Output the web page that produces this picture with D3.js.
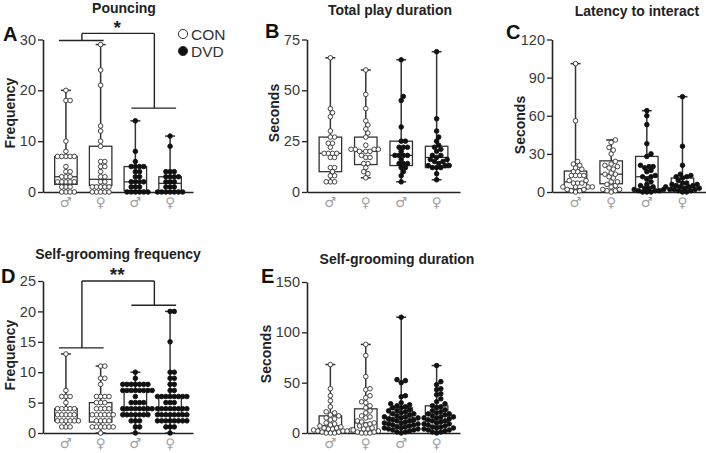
<!DOCTYPE html>
<html><head><meta charset="utf-8">
<script src="https://cdn.jsdelivr.net/npm/d3@7"></script>
<style>body{margin:0;background:#fff}</style>
</head><body><svg id="c" width="706" height="453"></svg>
<script>
// ---------- DATA ----------
const groups = ["CON ♂", "CON ♀", "DVD ♂", "DVD ♀"];
const sexSymbols = ["♂", "♀", "♂", "♀"];
const treatment = ["CON", "CON", "DVD", "DVD"];

// box stats: [min, q1, median, q3, max]
const pouncingValues = [
  [20,18,18,10,8,7,7,7,7,7,5,4,4,3,3,3,2,2,2,2,2,1,1,1,0,0,0,0],
  [29,24,21,13,12,10,9,6,6,5,5,4,3,3,2,2,1,1,1,1,1,0,0,0,0,0],
  [14,8,6,5,5,5,5,4,4,3,3,2,2,2,2,1,1,1,0,0,0,0,0,0],
  [11,9,4,4,4,3,3,3,3,2,2,2,1,1,1,0,0,0,0,0,0,0]
];
const pouncingBoxes = [[0,1.5,3,7,20],[0,1.3,2.5,9,29],[0,0.3,2,5,14],[0,0.2,1.7,3,11]];
const pouncingTicks = [0,10,20,30];

const playValues = [
  [66,41,39,37,30,27,27,24,24,22,19,19,19,19,17,17,12,12,10,8,8,5,5,5],
  [60,48,41,35,33,31,29,27,23,21,21,21,21,20,20,20,18,17,17,14,14,12,10,9,7],
  [65,47,45,32,25,25,22,22,22,20,18,18,18,18,16,14,14,14,12,12,10,8,5],
  [69,36,30,27,25,23,22,21,20,18,18,17,16,16,15,15,14,13,13,13,12,12,12,9,6]
];
const playBoxes = [[5,10,19,27,66],[7,13.5,20,27,60],[5,13,18,25,65],[6,12,17,22.5,69]];
const playTicks = [0,25,50,75];

const latencyValues = [
  [101,56,24,22,21,19,18,16,16,13,13,13,13,9,9,7,7,7,4,4,4,4,2,2,1,1,0],
  [41,39,35,33,30,24,22,21,20,19,18,15,14,14,12,11,8,8,6,5,4,2,2,1,1,0],
  [64,60,53,38,30,28,21,20,20,19,17,16,13,12,12,10,8,6,5,4,3,3,2,2,1,1,1,0,0,0],
  [75,36,21,14,13,12,12,11,9,7,7,6,6,5,5,4,4,4,3,3,2,2,2,1,1,0,0]
];
const latencyBoxes = [[0,2.5,8,16.5,101],[0,6.5,14,24.5,41],[0,1,12,28,64],[0,1.5,4,11,75]];
const latencyTicks = [0,30,60,90,120];

const groomFreqValues = [
  [13,7,6,6,6,5,4,4,4,4,4,3,3,3,3,3,2,2,2,2,2,2,1,1,1],
  [11,11,9,9,8,6,6,6,6,5,5,5,4,4,4,4,3,3,3,3,3,3,2,2,2,2,1,1,1,1,1,1,0],
  [10,9,8,8,8,8,8,8,8,7,7,7,7,7,7,7,7,6,5,5,5,5,4,4,4,4,4,4,4,4,3,3,3,3,3,3,3,2,2,2,1,1,0],
  [20,20,15,10,10,9,9,8,8,7,7,6,6,6,6,6,6,6,6,5,5,5,4,4,4,4,4,4,4,4,3,3,3,3,3,3,3,3,2,2,2,2,2,2,2,2,1,1,1,0]
];
const groomFreqBoxes = [[1,2,3,4,13],[0,1.8,3,5,11],[0,3,4,7,10],[0,3,4,6,20]];
const groomFreqTicks = [0,5,10,15,20,25];

const groomDurValues = [
  [68,44,37,32,26,21,20,18,17,15,14,13,10,9,8,7,6,5,5,4,4,3,3,2,2,2,1,1,0,0,0],
  [88,77,56,44,43,37,35,31,30,27,25,22,20,17,16,15,12,11,10,9,8,7,5,4,4,3,2,1,1,0,0,0],
  [115,53,52,50,37,36,30,29,28,27,26,25,25,23,22,22,21,20,19,19,18,17,16,16,15,15,14,13,13,12,12,11,10,10,9,9,8,8,7,6,6,5,5,4,4,3,3,2,1,1,0],
  [67,51,48,44,43,39,38,34,31,29,27,26,25,23,22,21,20,19,19,18,17,16,16,15,15,14,13,12,12,11,10,9,9,8,7,6,6,5,5,4,3,3,2,1,1,0]
];
const groomDurBoxes = [[0,2,7,17,68],[0,2,10,24,88],[0,8,15,25,115],[0,7,13,27,67]];
const groomDurTicks = [0,50,100,150];

// ---------- LAYOUT ----------
const panels = [
  {letter:"A", title:"Pouncing", ylab:"Frequency", values:pouncingValues, boxes:pouncingBoxes, ticks:pouncingTicks,
   x0:43, x1:193, yTop:39.5, yBot:192, titleX:124, titleY:12.5, letterX:3, letterY:41, ylabX:15, ylabY:113},
  {letter:"B", title:"Total play duration", ylab:"Seconds", values:playValues, boxes:playBoxes, ticks:playTicks,
   x0:307, x1:460, yTop:39.5, yBot:192, titleX:390, titleY:15, letterX:265, letterY:38, ylabX:279, ylabY:113},
  {letter:"C", title:"Latency to interact", ylab:"Seconds", values:latencyValues, boxes:latencyBoxes, ticks:latencyTicks,
   x0:552, x1:706, yTop:39.5, yBot:192, titleX:637, titleY:16, letterX:506, letterY:39, ylabX:525, ylabY:125},
  {letter:"D", title:"Self-grooming frequency", ylab:"Frequency", values:groomFreqValues, boxes:groomFreqBoxes, ticks:groomFreqTicks,
   x0:43, x1:193, yTop:281, yBot:433, titleX:118, titleY:259, letterX:1, letterY:283, ylabX:15, ylabY:355},
  {letter:"E", title:"Self-grooming duration", ylab:"Seconds", values:groomDurValues, boxes:groomDurBoxes, ticks:groomDurTicks,
   x0:307, x1:460, yTop:282, yBot:433, titleX:397, titleY:264, letterX:261, letterY:283, ylabX:271, ylabY:354}
];

const svg = d3.select("#c");
const FONT = "'Liberation Sans', Arial, Helvetica, sans-serif";
const INK = "#222";
const R = 2.3, SP = 4.2;

function swarm(vals, cx, y) {
  const placed = [];
  const sorted = vals.slice().sort((a,b)=>a-b);
  for (const v of sorted) {
    const py = y(v);
    let px = cx;
    for (let i = 0; i < 80; i++) {
      const off = (i === 0 ? 0 : (i % 2 ? 1 : -1) * Math.ceil(i/2) * SP/2);
      const tx = cx + off;
      let ok = true;
      for (const p of placed) {
        const dx = tx - p.x, dy = py - p.y;
        if (dx*dx + dy*dy < SP*SP - 0.01) { ok = false; break; }
      }
      if (ok) { px = tx; break; }
    }
    placed.push({x:px, y:py, v});
  }
  return placed;
}

panels.forEach(P => {
  const g = svg.append("g");
  const maxT = P.ticks[P.ticks.length-1];
  const y = d3.scaleLinear().domain([0, maxT]).range([P.yBot, P.yTop]);
  const x = d3.scalePoint().domain(groups).range([P.x0, P.x1]).padding(0.66);

  // axes
  const ya = g.append("g").attr("transform", `translate(${P.x0},0)`)
    .call(d3.axisLeft(y).tickValues(P.ticks).tickSize(5).tickSizeOuter(0).tickPadding(2));
  ya.select(".domain").attr("stroke", INK).attr("stroke-width", 1.6);
  ya.selectAll(".tick line").attr("stroke", INK).attr("stroke-width", 1.3);
  ya.selectAll(".tick text").attr("font-family", FONT).attr("font-size", 14.5).attr("fill", "#3a3a3a");

  const xa = g.append("g").attr("transform", `translate(0,${P.yBot})`)
    .call(d3.axisBottom(x).tickSize(0).tickSizeOuter(0).tickFormat(""));
  xa.select(".domain").attr("stroke", INK).attr("stroke-width", 1.6);

  // sex symbols
  g.selectAll(".sex").data(groups).enter().append("text")
    .attr("x", d => x(d)).attr("y", P.yBot + 15)
    .attr("text-anchor", "middle").attr("font-family", "'DejaVu Sans', sans-serif")
    .attr("font-size", 13.5).attr("fill", "#a0a0a0")
    .text((d,i) => sexSymbols[i]);

  // boxes & whiskers
  const BW = 22.5, CW = 10;
  groups.forEach((grp, i) => {
    const [mn, q1, md, q3, mx] = P.boxes[i];
    const cx = x(grp);
    const bg = g.append("g");
    bg.append("line").attr("x1", cx).attr("x2", cx).attr("y1", y(mx)).attr("y2", y(q3))
      .attr("stroke", "#333").attr("stroke-width", 1.5);
    bg.append("line").attr("x1", cx).attr("x2", cx).attr("y1", y(q1)).attr("y2", y(mn))
      .attr("stroke", "#333").attr("stroke-width", 1.5);
    [mn, mx].forEach(v => bg.append("line").attr("x1", cx - CW/2).attr("x2", cx + CW/2)
      .attr("y1", y(v)).attr("y2", y(v)).attr("stroke", "#333").attr("stroke-width", 1.5));
    bg.append("rect").attr("x", cx - BW/2).attr("y", y(q3)).attr("width", BW).attr("height", y(q1) - y(q3))
      .attr("fill", "none").attr("stroke", "#333").attr("stroke-width", 1.3);
    bg.append("line").attr("x1", cx - BW/2).attr("x2", cx + BW/2).attr("y1", y(md)).attr("y2", y(md))
      .attr("stroke", "#333").attr("stroke-width", 1.3);

    const pts = swarm(P.values[i], cx, y);
    const con = treatment[i] === "CON";
    g.append("g").selectAll("circle").data(pts).enter().append("circle")
      .attr("cx", d => d.x).attr("cy", d => d.y).attr("r", R)
      .attr("fill", con ? "#fff" : "#111")
      .attr("stroke", con ? "#333" : "#111").attr("stroke-width", 0.9);
  });

  // titles
  g.append("text").attr("x", P.titleX).attr("y", P.titleY).attr("text-anchor", "middle")
    .attr("font-family", FONT).attr("font-weight", "bold").attr("font-size", 14).attr("fill", "#222")
    .text(P.title);
  g.append("text").attr("x", P.letterX).attr("y", P.letterY)
    .attr("font-family", FONT).attr("font-weight", "bold").attr("font-size", 20).attr("fill", "#111")
    .text(P.letter);
  g.append("text").attr("transform", `translate(${P.ylabX},${P.ylabY}) rotate(-90)`)
    .attr("text-anchor", "middle").attr("font-family", FONT).attr("font-weight", "bold")
    .attr("font-size", 14).attr("fill", "#222").text(P.ylab);

  P.y = y; P.x = x; P.g = g;
});

// ---------- significance brackets ----------
function bracket(P, leftY, rightY, topY, label, labelY, size) {
  const x = P.x, y = P.y, g = P.g;
  const lx1 = x(groups[0]) - 7, lx2 = x(groups[1]) + 3;
  const rx1 = x(groups[2]) - 4, rx2 = x(groups[3]) + 6;
  const lm = x(groups[0]) + 16, rm = x(groups[2]) + 19;
  const line = (x1,y1,x2,y2) => g.append("line").attr("x1",x1).attr("y1",y1).attr("x2",x2).attr("y2",y2)
    .attr("stroke", "#222").attr("stroke-width", 1.4);
  line(lx1, y(leftY), lx2, y(leftY));
  line(rx1, y(rightY), rx2, y(rightY));
  line(lm, y(leftY), lm, y(topY));
  line(rm, y(rightY), rm, y(topY));
  line(lm, y(topY), rm, y(topY));
  g.append("text").attr("x", (lm + rm)/2 - 1).attr("y", labelY).attr("text-anchor", "middle")
    .attr("font-family", FONT).attr("font-weight", "bold").attr("font-size", size).attr("fill", "#222").text(label);
}
bracket(panels[0], 29.8, 16.5, 31.2, "*", 33.5, 19);
bracket(panels[3], 14, 21, 25, "**", 281, 19);

// ---------- legend ----------
const legendItems = [{label:"CON", fill:"#fff"}, {label:"DVD", fill:"#111"}];
const lg = svg.append("g");
legendItems.forEach((d, i) => {
  lg.append("circle").attr("cx", 183).attr("cy", 34 + i*17).attr("r", 4.6)
    .attr("fill", d.fill).attr("stroke", "#333").attr("stroke-width", 1);
  lg.append("text").attr("x", 191).attr("y", 39.5 + i*17)
    .attr("font-family", FONT).attr("font-size", 15.5).attr("fill", "#333").text(d.label);
});
</script>
</body></html>
